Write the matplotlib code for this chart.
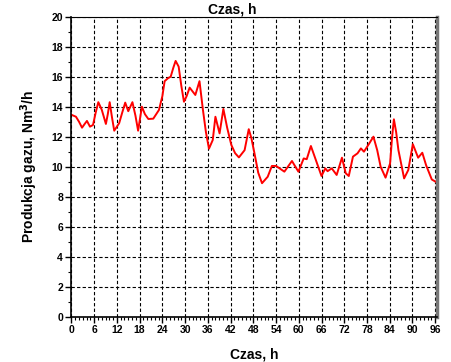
import matplotlib
matplotlib.use('Agg')
import matplotlib.pyplot as plt
from matplotlib.ticker import MultipleLocator

# odczyt z wykresu: czas [h] i produkcja gazu [Nm3/h]
czas = [0.1, 1.2, 2.0, 2.8, 3.5, 4.1, 4.9, 5.7, 6.4, 7.1, 8.0, 9.1, 9.6, 10.1, 10.7,
        11.3, 12.6, 13.4, 14.2, 15.0, 16.1, 16.9, 17.6, 18.6, 19.4, 20.3, 21.6,
        23.1, 24.0, 24.6, 25.5, 26.2, 26.9, 27.5, 28.3, 29.0, 29.7, 30.4, 31.2,
        32.7, 33.8, 34.7, 35.5, 36.3, 37.3, 38.0, 39.1, 40.1, 41.1, 42.2, 43.2,
        44.2, 45.7, 46.8, 47.5, 48.3, 49.3, 50.3, 51.8, 52.9, 54.0, 56.2, 58.2,
        59.9, 61.3, 62.1, 63.2, 64.5, 66.0, 67.0, 67.6, 68.7, 70.0, 71.4, 72.4,
        73.2, 74.3, 75.5, 76.4, 77.2, 78.6, 79.7, 80.7, 81.6, 82.9, 84.1, 84.6,
        85.1, 85.7, 86.3, 87.8, 88.9, 90.1, 91.5, 92.6, 93.6, 95.1, 96.1]
gaz = [13.45, 13.33, 13.0, 12.6, 12.85, 13.05, 12.67, 12.78, 13.6, 14.3, 13.8, 12.85,
       13.5, 14.3, 13.3, 12.4, 12.9, 13.6, 14.27, 13.7, 14.3, 13.4, 12.4, 14.0,
       13.5, 13.18, 13.2, 13.78, 14.7, 15.7, 15.9, 16.0, 16.6, 17.05, 16.67,
       15.4, 14.33, 14.7, 15.27, 14.78, 15.7, 13.8, 12.3, 11.2, 11.78, 13.33,
       12.22, 13.85, 12.6, 11.45, 10.9, 10.62, 11.1, 12.5, 11.9, 10.9, 9.6, 8.9,
       9.33, 10.05, 10.05, 9.67, 10.38, 9.67, 10.55, 10.5, 11.38, 10.45, 9.38,
       9.89, 9.7, 9.89, 9.45, 10.6, 9.56, 9.38, 10.67, 10.89, 11.22, 11.0, 11.55,
       12.0, 11.1, 10.0, 9.27, 10.22, 11.9, 13.16, 12.3, 11.1, 9.22, 9.78, 11.5,
       10.6, 10.93, 10.1, 9.15, 9.0]

plt.rcParams['font.family'] = ['Liberation Sans', 'DejaVu Sans']
plt.rcParams['font.weight'] = 'bold'

fig = plt.figure(figsize=(4.52, 3.62), dpi=100)
ax = fig.add_axes([0.158, 0.125, 0.809, 0.829])

ax.plot(czas, gaz, color='red', lw=1.4, solid_joinstyle='round')

ax.set_xlim(0, 96.5)
ax.set_ylim(0, 20)
ax.xaxis.set_major_locator(MultipleLocator(6))
ax.xaxis.set_minor_locator(MultipleLocator(1))
ax.yaxis.set_major_locator(MultipleLocator(2))
ax.yaxis.set_minor_locator(MultipleLocator(1))
ax.tick_params(which='major', direction='out', length=4, width=1, labelsize=7.5, pad=2)
ax.tick_params(which='minor', direction='out', length=2, width=0.8)
ax.tick_params(top=False, right=False)
for lab in ax.get_xticklabels() + ax.get_yticklabels():
    lab.set_fontweight('bold')

ax.grid(True, which='major', color='black', ls=(0, (3, 2)), lw=0.8)

ax.spines['left'].set_linewidth(1.2)
ax.spines['bottom'].set_linewidth(1.2)
ax.spines['top'].set_linewidth(0.8)
ax.spines['right'].set_linewidth(2.5)
ax.spines['right'].set_color('#777777')

ax.set_xlabel('Czas, h', fontsize=10, fontweight='bold', labelpad=9)
ax.set_ylabel('Produkcja gazu, Nm$^{\\mathbf{3}}$/h', fontsize=10, fontweight='bold', labelpad=8)
fig.text(232 / 452, 1 - 9 / 362, 'Czas, h', ha='center', va='center', fontsize=10, fontweight='bold')

fig.savefig('out.png', dpi=100)
